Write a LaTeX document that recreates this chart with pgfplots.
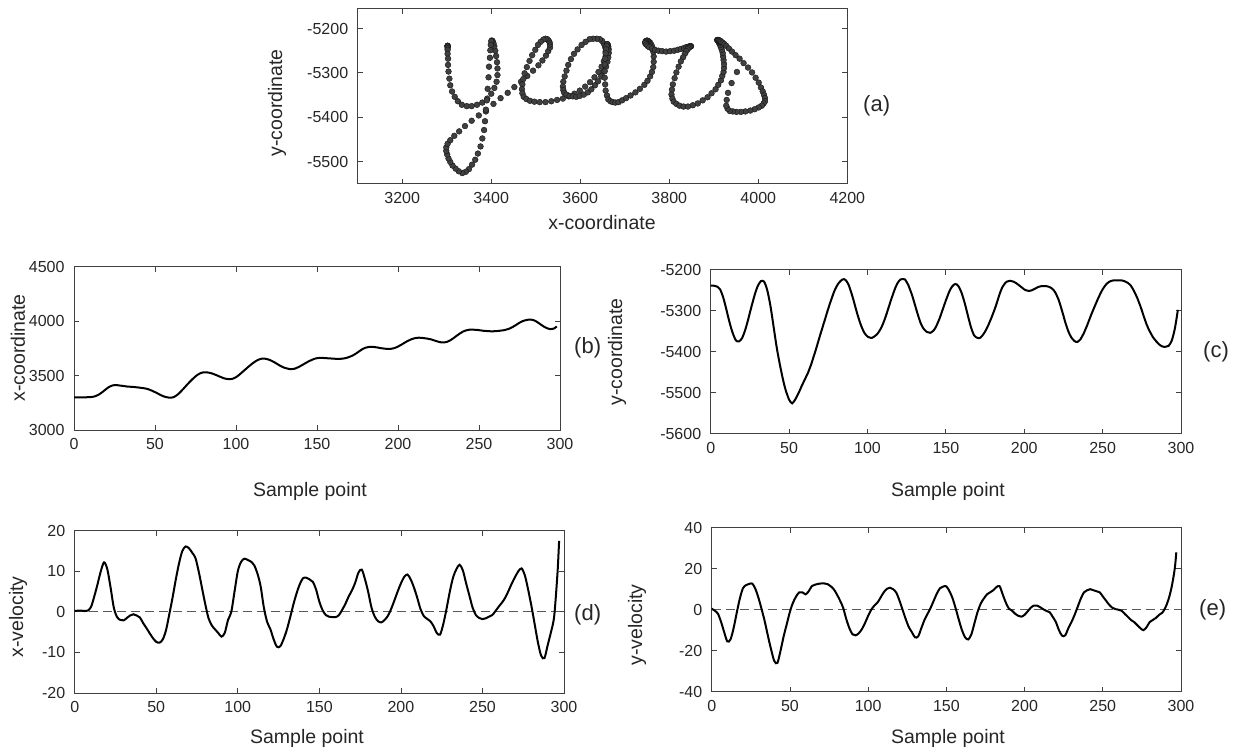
\documentclass[border=0pt]{standalone}
\usepackage{fontspec}
\setmainfont{Liberation Sans}
\usepackage{pgfplots}
\usepackage{pgfplotstable}
\pgfplotsset{compat=1.18}

% pen position, one row per sample
\pgfplotstableread{
t x y
0 3302 -5239
1 3302 -5239
2 3302 -5239
3 3302 -5240
4 3302 -5241
5 3302 -5244
6 3302 -5248
7 3302 -5257
8 3303 -5268
9 3303 -5282
10 3304 -5297
11 3306 -5313
12 3308 -5328
13 3312 -5342
14 3318 -5354
15 3325 -5364
16 3334 -5372
17 3345 -5375
18 3356 -5375
19 3368 -5372
20 3380 -5367
21 3391 -5358
22 3400 -5347
23 3407 -5334
24 3412 -5320
25 3414 -5305
26 3414 -5290
27 3413 -5276
28 3411 -5262
29 3409 -5250
30 3407 -5240
31 3405 -5233
32 3403 -5228
33 3401 -5227
34 3400 -5229
35 3399 -5237
36 3398 -5249
37 3397 -5266
38 3395 -5286
39 3394 -5310
40 3392 -5336
41 3390 -5362
42 3388 -5387
43 3386 -5409
44 3384 -5429
45 3380 -5448
46 3376 -5466
47 3370 -5482
48 3364 -5496
49 3357 -5507
50 3350 -5517
51 3343 -5523
52 3335 -5526
53 3327 -5522
54 3320 -5516
55 3313 -5509
56 3308 -5501
57 3304 -5493
58 3301 -5484
59 3299 -5476
60 3299 -5468
61 3302 -5460
62 3308 -5452
63 3317 -5442
64 3328 -5432
65 3341 -5420
66 3356 -5408
67 3372 -5396
68 3388 -5383
69 3405 -5370
70 3421 -5357
71 3437 -5345
72 3452 -5332
73 3467 -5320
74 3481 -5307
75 3494 -5295
76 3506 -5283
77 3515 -5272
78 3523 -5261
79 3528 -5251
80 3532 -5243
81 3532 -5236
82 3531 -5231
83 3529 -5227
84 3526 -5224
85 3522 -5223
86 3517 -5225
87 3511 -5230
88 3505 -5237
89 3499 -5248
90 3492 -5260
91 3486 -5273
92 3480 -5287
93 3475 -5301
94 3472 -5314
95 3470 -5326
96 3469 -5337
97 3470 -5346
98 3473 -5354
99 3479 -5359
100 3487 -5363
101 3497 -5365
102 3509 -5366
103 3522 -5366
104 3535 -5364
105 3548 -5361
106 3561 -5358
107 3574 -5353
108 3587 -5347
109 3599 -5340
110 3611 -5331
111 3622 -5321
112 3632 -5310
113 3641 -5298
114 3648 -5286
115 3653 -5274
116 3657 -5263
117 3657 -5252
118 3656 -5242
119 3653 -5234
120 3649 -5228
121 3644 -5224
122 3637 -5223
123 3629 -5223
124 3621 -5224
125 3612 -5230
126 3603 -5237
127 3594 -5247
128 3586 -5257
129 3579 -5269
130 3573 -5282
131 3569 -5295
132 3565 -5308
133 3562 -5320
134 3561 -5331
135 3562 -5339
136 3564 -5345
137 3569 -5349
138 3576 -5352
139 3583 -5353
140 3591 -5354
141 3599 -5352
142 3608 -5349
143 3617 -5344
144 3625 -5337
145 3633 -5328
146 3640 -5319
147 3647 -5308
148 3653 -5297
149 3658 -5286
150 3661 -5275
151 3663 -5265
152 3664 -5255
153 3664 -5247
154 3663 -5241
155 3662 -5237
156 3661 -5235
157 3660 -5236
158 3659 -5240
159 3658 -5247
160 3657 -5256
161 3656 -5268
162 3655 -5281
163 3655 -5296
164 3655 -5311
165 3656 -5326
166 3657 -5340
167 3660 -5351
168 3663 -5360
169 3668 -5364
170 3673 -5366
171 3679 -5367
172 3686 -5366
173 3694 -5362
174 3703 -5357
175 3713 -5351
176 3724 -5344
177 3734 -5336
178 3744 -5327
179 3751 -5318
180 3757 -5308
181 3761 -5298
182 3764 -5287
183 3765 -5275
184 3765 -5263
185 3764 -5252
186 3762 -5243
187 3760 -5237
188 3757 -5232
189 3754 -5229
190 3752 -5228
191 3750 -5227
192 3748 -5228
193 3747 -5229
194 3746 -5231
195 3746 -5233
196 3748 -5236
197 3751 -5239
198 3755 -5242
199 3761 -5245
200 3768 -5248
201 3776 -5250
202 3784 -5251
203 3793 -5252
204 3802 -5251
205 3811 -5250
206 3819 -5248
207 3826 -5246
208 3833 -5244
209 3838 -5242
210 3843 -5241
211 3846 -5240
212 3848 -5240
213 3849 -5240
214 3848 -5240
215 3847 -5241
216 3845 -5242
217 3843 -5244
218 3841 -5247
219 3838 -5251
220 3835 -5257
221 3831 -5265
222 3826 -5274
223 3821 -5286
224 3816 -5299
225 3812 -5312
226 3808 -5326
227 3806 -5338
228 3805 -5349
229 3807 -5358
230 3810 -5365
231 3816 -5370
232 3823 -5374
233 3832 -5376
234 3842 -5376
235 3853 -5373
236 3864 -5369
237 3875 -5362
238 3886 -5355
239 3895 -5346
240 3904 -5337
241 3910 -5327
242 3916 -5317
243 3919 -5307
244 3922 -5298
245 3923 -5289
246 3923 -5280
247 3922 -5271
248 3921 -5263
249 3920 -5255
250 3918 -5248
251 3916 -5242
252 3914 -5237
253 3912 -5233
254 3911 -5230
255 3910 -5228
256 3909 -5227
257 3908 -5226
258 3908 -5226
259 3908 -5226
260 3909 -5226
261 3910 -5226
262 3911 -5226
263 3913 -5227
264 3915 -5228
265 3917 -5230
266 3920 -5232
267 3924 -5235
268 3928 -5239
269 3934 -5245
270 3941 -5252
271 3949 -5260
272 3958 -5268
273 3967 -5278
274 3977 -5288
275 3986 -5299
276 3994 -5311
277 4001 -5322
278 4006 -5333
279 4010 -5342
280 4013 -5350
281 4015 -5357
282 4015 -5364
283 4012 -5369
284 4008 -5374
285 4001 -5378
286 3992 -5382
287 3982 -5385
288 3971 -5387
289 3961 -5388
290 3951 -5388
291 3943 -5387
292 3936 -5386
293 3931 -5381
294 3928 -5374
295 3929 -5361
296 3932 -5345
297 3940 -5323
298 3952 -5298
}\pos

% pen velocity
\pgfplotstableread{
t vx vy
0 0.2 0.5
2 0.3 -0.5
4 0.3 -2
6 0.2 -6
8 0.3 -11
10 1.2 -15.5
12 3.8 -14.5
14 6.8 -9
16 10 -1.5
18 12.2 5.5
20 10.5 10.5
22 6 12
24 1 12.6
26 -1.3 12.7
28 -2 10
30 -2.1 5.5
32 -1.5 0
34 -0.9 -6
36 -0.6 -13
38 -0.9 -19.5
40 -1.4 -25
42 -2.8 -26
44 -4 -20
46 -5.3 -13
48 -6.5 -7
50 -7.4 -1
52 -7.6 3.5
54 -6.8 6.5
56 -4.5 8.5
58 -0.6 8.5
60 3.5 7.5
62 8 9
64 12 11.5
66 15 12.2
68 16.1 12.6
70 15.7 12.8
72 14.6 12.8
74 13.3 12.5
76 10 11.5
78 6 10
80 2 7.5
82 -1.5 4.5
84 -3.3 1
86 -4.3 -4.5
88 -5.2 -9
90 -6.1 -12
92 -5.2 -12.5
94 -2 -11.5
96 0 -9.5
98 5 -6.5
100 10 -3
102 12.3 0
104 13.1 2
106 12.8 3.5
108 12.4 6
110 11.5 8.5
112 9.5 10.2
114 6.3 10.7
116 1 10
118 -2.5 8.3
120 -4.3 4.5
122 -6.8 0
124 -8.6 -4.5
126 -8.5 -8.5
128 -6.8 -11
130 -4.5 -13.5
132 -1.5 -13
134 1.7 -9
136 4.5 -5
138 6.8 -2
140 8.3 1
142 8.4 4.5
144 8 8
146 7.4 10.5
148 5.5 11.3
150 2.5 11.4
152 0.4 9
154 -0.8 5.5
156 -1.2 0.5
158 -1.3 -5
160 -1.3 -10
162 -0.8 -13.5
164 0.5 -14.5
166 2 -12
168 3.8 -6.5
170 5.3 -1
172 7.2 3
174 9.7 5.5
176 10.4 7.5
178 8 8.5
180 4.8 9.5
182 1 11
184 -1.2 11.5
186 -2.3 7.5
188 -2.6 3.5
190 -2 0.5
192 -1 -0.5
194 0.7 -2
196 2.8 -3
198 5 -3.4
200 7 -2.5
202 8.6 -0.8
204 9.2 1
206 8 2
208 6 2
210 3.5 1.2
212 0.7 0.2
214 -1 -0.6
216 -1.7 -1.2
218 -2.3 -3.5
220 -3.5 -6
222 -5.2 -10
224 -5.6 -12.7
226 -3 -12.5
228 0.8 -9
230 5 -6
232 8.5 -2.5
234 10.5 1.5
236 11.6 5.5
238 10.2 8.5
240 7 9.5
242 4 10
244 1 9.5
246 -0.8 9
248 -1.5 8.5
250 -1.8 6.5
252 -1.6 4.5
254 -1.2 2.5
256 -0.8 1
258 0.2 0.3
260 1.3 0
262 2.3 -0.5
264 3.5 -2
266 5.2 -3.5
268 7 -5
270 8.6 -6
272 10 -7.5
274 10.7 -9
276 9 -10
278 5.5 -8.5
280 1.5 -6
282 -3 -5
284 -7.5 -4
286 -10.8 -2.5
288 -11.4 -1.5
290 -8.2 1
292 -5 5
294 -1 11
296 9.5 20
297 17.5 28
}\vel

\pgfplotsset{
  every axis/.append style={
    scale only axis,
    anchor=south west,
    axis line style={black!75, line width=0.9pt},
    tick style={black!75, line width=0.8pt},
    major tick length=5pt,
    tick align=inside,
    scaled ticks=false,
    /pgf/number format/assume math mode=true,
    /pgf/number format/1000 sep={},
    tick label style={font=\fontsize{16}{16}\selectfont, text=black!85},
    yticklabel style={xshift=-6pt},
    xticklabel style={yshift=-5pt},
  },
  curve/.style={black, line width=2pt, smooth, tension=0.5},
  zero/.style={black!65, line width=1.2pt, dash pattern=on 9pt off 5pt},
}

\begin{document}
\begin{tikzpicture}
\useasboundingbox (0pt,0pt) rectangle (1245pt,749pt);

% (a) handwriting
\begin{axis}[
  at={(357.7pt,565.3pt)},
  width=489.6pt, height=175.1pt,
  xmin=3100, xmax=4200, ymin=-5550, ymax=-5155,
  xtick={3200,3400,...,4200},
  ytick={-5500,-5400,-5300,-5200},
]
\addplot[only marks, mark=*, mark size=2.9pt,
  mark options={fill=black!75, draw=black!92, line width=0.4pt}]
  table[x=x, y=y] {\pos};
\end{axis}

% (b) x-coordinate
\begin{axis}[
  at={(74pt,318.7pt)},
  width=486pt, height=163.6pt,
  xmin=0, xmax=300, ymin=3000, ymax=4500,
  xtick={0,50,...,300}, ytick={3000,3500,4000,4500},
]
\addplot[curve] table[x=t, y=x] {\pos};
\end{axis}

% (c) y-coordinate
\begin{axis}[
  at={(710.7pt,315.3pt)},
  width=470.3pt, height=164pt,
  xmin=0, xmax=300, ymin=-5600, ymax=-5200,
  xtick={0,50,...,300}, ytick={-5600,-5500,...,-5200},
]
\addplot[curve] table[x=t, y=y] {\pos};
\end{axis}

% (d) x-velocity
\begin{axis}[
  at={(74.7pt,56pt)},
  width=489.3pt, height=162.3pt,
  xmin=0, xmax=300, ymin=-20, ymax=20,
  xtick={0,50,...,300}, ytick={-20,-10,0,10,20},
]
\addplot[zero] coordinates {(0,0) (300,0)};
\addplot[curve] table[x=t, y=vx] {\vel};
\end{axis}

% (e) y-velocity
\begin{axis}[
  at={(711.7pt,57.3pt)},
  width=469.3pt, height=164pt,
  xmin=0, xmax=300, ymin=-40, ymax=40,
  xtick={0,50,...,300}, ytick={-40,-20,0,20,40},
]
\addplot[zero] coordinates {(0,0) (300,0)};
\addplot[curve] table[x=t, y=vy] {\vel};
\end{axis}

% labels
\begin{scope}[every node/.style={font=\fontsize{19.5}{20}\selectfont, text=black!85, inner sep=0pt}]
\node[anchor=base] at (602pt,519pt) {x-coordinate};
\node[rotate=90] at (277pt,646pt) {y-coordinate};
\node[rotate=90] at (18pt,401pt) {x-coordinate};
\node[anchor=base] at (310pt,252pt) {Sample point};
\node[rotate=90] at (617pt,397pt) {y-coordinate};
\node[anchor=base] at (948pt,252pt) {Sample point};
\node[rotate=90] at (18pt,132pt) {x-velocity};
\node[anchor=base] at (307pt,5pt) {Sample point};
\node[rotate=90] at (637pt,124pt) {y-velocity};
\node[anchor=base] at (948pt,5pt) {Sample point};
\end{scope}
\begin{scope}[every node/.style={font=\fontsize{22}{24}\selectfont, text=black!85, inner sep=0pt, anchor=west}]
\node at (863pt,643pt) {(a)};
\node at (574pt,401pt) {(b)};
\node at (1203pt,397pt) {(c)};
\node at (574pt,134pt) {(d)};
\node at (1199pt,139pt) {(e)};
\end{scope}
\end{tikzpicture}
\end{document}
